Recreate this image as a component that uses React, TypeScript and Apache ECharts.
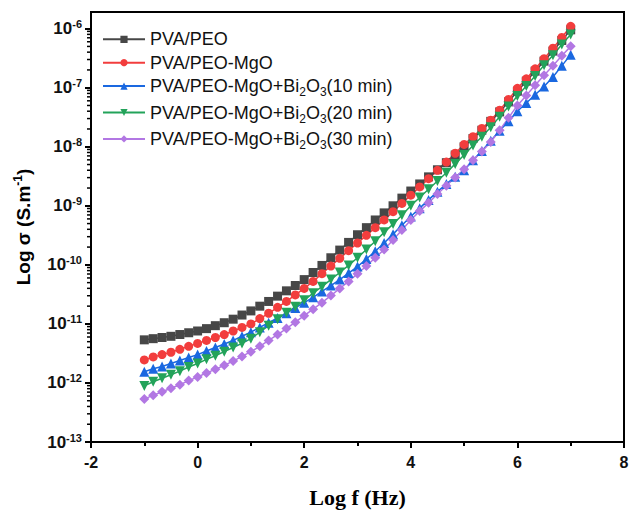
import React, { useEffect, useRef } from "react";
import * as echarts from "echarts";

const logF = [
  -1, -0.833, -0.667, -0.5, -0.333, -0.167, 0, 0.167, 0.333, 0.5, 0.667, 0.833,
  1, 1.167, 1.333, 1.5, 1.667, 1.833, 2, 2.167, 2.333, 2.5, 2.667, 2.833,
  3, 3.167, 3.333, 3.5, 3.667, 3.833, 4, 4.167, 4.333, 4.5, 4.667, 4.833,
  5, 5.167, 5.333, 5.5, 5.667, 5.833, 6, 6.167, 6.333, 6.5, 6.667, 6.833, 7,
];

const seriesNames = [
  "PVA/PEO",
  "PVA/PEO-MgO",
  "PVA/PEO-MgO+Bi2O3(10 min)",
  "PVA/PEO-MgO+Bi2O3(20 min)",
  "PVA/PEO-MgO+Bi2O3(30 min)",
];

// log10 of sigma (S/m)
const pvaPeo = [
  -11.27, -11.25, -11.23, -11.21, -11.18, -11.15, -11.12, -11.08, -11.03, -10.98, -10.92, -10.85,
  -10.78, -10.7, -10.62, -10.53, -10.44, -10.35, -10.25, -10.13, -10.01, -9.88, -9.75, -9.62,
  -9.49, -9.37, -9.24, -9.12, -9.0, -8.87, -8.75, -8.63, -8.51, -8.39, -8.27, -8.14,
  -8.0, -7.86, -7.72, -7.57, -7.41, -7.24, -7.06, -6.89, -6.72, -6.55, -6.38, -6.2, -6.02,
];
const pvaPeoMgO = [
  -11.61, -11.56, -11.52, -11.48, -11.43, -11.38, -11.33, -11.28, -11.23, -11.18, -11.12, -11.06,
  -11.0, -10.91, -10.82, -10.72, -10.62, -10.51, -10.4, -10.28, -10.15, -10.02, -9.89, -9.76,
  -9.63, -9.5, -9.37, -9.24, -9.1, -8.96, -8.82, -8.68, -8.54, -8.4, -8.26, -8.11,
  -7.96, -7.83, -7.69, -7.55, -7.38, -7.2, -7.01, -6.85, -6.68, -6.51, -6.33, -6.15, -5.96,
];
const bi10 = [
  -11.81, -11.76, -11.72, -11.67, -11.62, -11.57, -11.52, -11.46, -11.4, -11.34, -11.28, -11.21,
  -11.14, -11.06, -10.98, -10.9, -10.82, -10.73, -10.64, -10.55, -10.45, -10.35, -10.25, -10.14,
  -10.03, -9.9, -9.77, -9.63, -9.48, -9.33, -9.18, -9.04, -8.9, -8.76, -8.63, -8.51,
  -8.4, -8.23, -8.07, -7.9, -7.73, -7.57, -7.4, -7.26, -7.12, -6.98, -6.82, -6.63, -6.44,
];
const bi20 = [
  -12.05, -11.98, -11.92, -11.86, -11.8, -11.73, -11.67, -11.6, -11.54, -11.47, -11.4, -11.33,
  -11.25, -11.14, -11.03, -10.92, -10.81, -10.71, -10.6, -10.48, -10.37, -10.25, -10.13, -10.01,
  -9.88, -9.74, -9.6, -9.45, -9.31, -9.16, -9.0, -8.86, -8.72, -8.58, -8.44, -8.29,
  -8.14, -7.98, -7.83, -7.67, -7.49, -7.32, -7.14, -6.97, -6.8, -6.62, -6.45, -6.27, -6.1,
];
const bi30 = [
  -12.27, -12.21, -12.15, -12.09, -12.03, -11.96, -11.9, -11.83, -11.77, -11.7, -11.63, -11.55,
  -11.47, -11.38, -11.28, -11.18, -11.08, -10.97, -10.86, -10.75, -10.64, -10.52, -10.4, -10.28,
  -10.15, -10.02, -9.88, -9.74, -9.58, -9.41, -9.24, -9.09, -8.95, -8.8, -8.66, -8.52,
  -8.38, -8.23, -8.08, -7.92, -7.72, -7.51, -7.3, -7.13, -6.96, -6.79, -6.63, -6.46, -6.3,
];

const xTicks = [-2, 0, 2, 4, 6, 8];
const yDecades = [-13, -12, -11, -10, -9, -8, -7, -6];

const allValues = [pvaPeo, pvaPeoMgO, bi10, bi20, bi30];
const colors = ["#474747", "#f23d3d", "#1a68e0", "#23a35a", "#b277e3"];
const symbols = ["rect", "circle", "triangle", "triangle", "diamond"];
const symbolRotates = [0, 0, 0, 180, 0];
const symbolSizes = [9, 9, 10, 10, 10];

const Y_MIN = -13;
const Y_MAX = -5.718;

export default function App() {
  const ref = useRef<HTMLDivElement>(null);
  useEffect(() => {
    if (!ref.current) return;
    const chart = echarts.init(ref.current, undefined, { renderer: "svg" });
    const sans = "Liberation Sans, Arial, sans-serif";
    const series: any[] = seriesNames.map((name, i) => ({
      name,
      type: "line",
      data: logF.map((x, j) => [x, allValues[i][j]]),
      symbol: symbols[i],
      symbolSize: symbolSizes[i],
      symbolRotate: symbolRotates[i],
      showAllSymbol: true,
      color: colors[i],
      lineStyle: { width: 1.5, color: colors[i] },
      itemStyle: { color: colors[i] },
    }));
    chart.setOption({
      animation: false,
      backgroundColor: "#fff",
      grid: {
        left: 91,
        right: 7,
        top: 12,
        bottom: 68,
        show: true,
        borderColor: "#000",
        borderWidth: 2,
        outerBoundsMode: "none",
        containLabel: false,
      },
      legend: {
        left: 102,
        top: 30.3,
        padding: 0,
        orient: "vertical",
        itemWidth: 42,
        itemHeight: 9,
        itemGap: 5.4,
        itemTextGap: 5,
        data: seriesNames,
        formatter: (name: string) =>
          name.indexOf("Bi2O3") >= 0
            ? "{t|" + name.replace("Bi2O3", "Bi}{sub|2}{t|O}{sub|3}{t|") + "}"
            : "{t|" + name + "}",
        textStyle: {
          fontFamily: sans,
          fontSize: 18,
          lineHeight: 18,
          color: "#111",
          rich: {
            t: { fontFamily: sans, fontSize: 18, lineHeight: 18, color: "#111" },
            sub: {
              fontFamily: sans,
              fontSize: 12,
              lineHeight: 6,
              height: 6,
              verticalAlign: "bottom",
              color: "#111",
            },
          },
        },
      },
      xAxis: {
        type: "value",
        min: xTicks[0],
        max: xTicks[xTicks.length - 1],
        interval: 2,
        name: "Log f (Hz)",
        nameLocation: "middle",
        nameGap: 44,
        nameTextStyle: {
          fontFamily: "Liberation Serif, Times New Roman, serif",
          fontWeight: "bold",
          fontSize: 22,
          color: "#000",
        },
        axisLine: { show: true, onZero: false, lineStyle: { color: "#000", width: 2 } },
        axisTick: { show: true, length: 6, lineStyle: { color: "#000", width: 2 } },
        minorTick: { show: true, splitNumber: 2, length: 4, lineStyle: { color: "#000", width: 2 } },
        axisLabel: {
          margin: 12,
          fontFamily: sans,
          fontWeight: "bold",
          fontSize: 16,
          color: "#111",
        },
        splitLine: { show: false },
      },
      yAxis: {
        type: "value",
        min: Y_MIN,
        max: Y_MAX,
        interval: 1,
        position: "left",
        name: "{a|Log σ (S.m}{s|-1}{a|)}",
        nameLocation: "middle",
        nameRotate: 90,
        nameGap: 57,
        nameTextStyle: {
          rich: {
            a: { fontFamily: sans, fontWeight: "bold", fontSize: 19, lineHeight: 22, color: "#000" },
            s: { fontFamily: sans, fontWeight: "bold", fontSize: 12, lineHeight: 14, verticalAlign: "top", color: "#000" },
          },
        },
        axisLine: { show: true, onZero: false, lineStyle: { color: "#000", width: 2 } },
        axisTick: { show: true, length: 6, lineStyle: { color: "#000", width: 2 } },
        axisLabel: {
          margin: 9,
          showMaxLabel: false,
          formatter: (v: number) =>
            yDecades.indexOf(Math.round(v)) >= 0 && Math.abs(v - Math.round(v)) < 1e-6
              ? "{b|10}{s|" + Math.round(v) + "}"
              : "",
          rich: {
            b: { fontFamily: sans, fontWeight: "bold", fontSize: 17, lineHeight: 20, color: "#111" },
            s: { fontFamily: sans, fontWeight: "bold", fontSize: 11, lineHeight: 10, verticalAlign: "top", color: "#111" },
          },
        },
        splitLine: { show: false },
      },
      series,
    });

    // log-spaced minor ticks on the y axis, positioned through the chart's own scales
    const minorLines: any[] = [];
    for (let d = Y_MIN; d < -5; d++) {
      for (let k = 2; k <= 9; k++) {
        const v = d + Math.log10(k);
        if (v >= Y_MAX) continue;
        const p = chart.convertToPixel({ gridIndex: 0 }, [xTicks[0], v]) as number[];
        if (!p || isNaN(p[0]) || isNaN(p[1])) continue;
        minorLines.push({
          type: "line",
          silent: true,
          z: 10,
          shape: { x1: p[0] - 4, y1: p[1], x2: p[0], y2: p[1] },
          style: { stroke: "#000", lineWidth: 1.5 },
        });
      }
    }
    chart.setOption({ graphic: minorLines });
    return () => chart.dispose();
  }, []);
  return (
    <div
      ref={ref}
      style={{ position: "fixed", left: 0, top: 0, width: 631, height: 510, background: "#fff" }}
    />
  );
}
